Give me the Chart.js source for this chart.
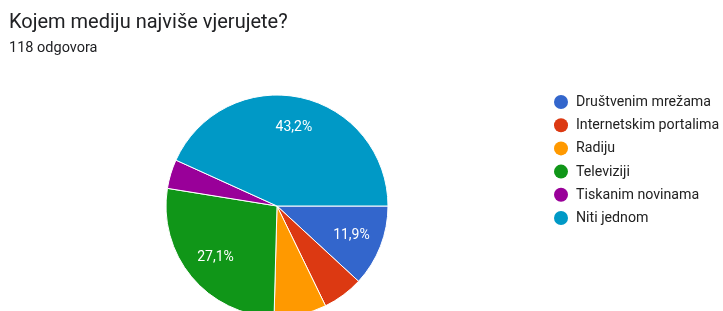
<!DOCTYPE html>
<html>
<head>
<meta charset="utf-8">
<script src="https://cdn.jsdelivr.net/npm/chart.js@4/dist/chart.umd.min.js"></script>
<style>
  html, body { margin: 0; padding: 0; background: #fff; overflow: hidden; }
  #wrap { position: relative; width: 723px; height: 311px; }
</style>
</head>
<body>
<div id="wrap"><canvas id="grafico" width="723" height="311"></canvas></div>
<script>
// podaci
var naslov = 'Kojem mediju najviše vjerujete?';
var podnaslov = '118 odgovora';
var kategorije = ['Društvenim mrežama', 'Internetskim portalima', 'Radiju', 'Televiziji', 'Tiskanim novinama', 'Niti jednom'];
var odgovori = [14, 7, 9, 32, 5, 51];
var boje = ['#3366cc', '#dc3912', '#ff9900', '#109618', '#990099', '#0099c6'];

var ukupno = odgovori.reduce(function (a, b) { return a + b; }, 0);

// naslov, legenda i postoci
var tekstovi = {
    id: 'tekstovi',
    afterDatasetsDraw: function (chart) {
        var ctx = chart.ctx;
        var meta = chart.getDatasetMeta(0);
        ctx.save();
        ctx.textBaseline = 'middle';
        ctx.textAlign = 'center';
        ctx.fillStyle = '#ffffff';
        ctx.font = '14px Roboto';
        meta.data.forEach(function (arc, i) {
            var udio = odgovori[i] / ukupno * 100;
            if (udio < 10) return;
            var sred = (arc.startAngle + arc.endAngle) / 2;
            var r = arc.outerRadius * 0.72;
            ctx.fillText(udio.toFixed(1).replace('.', ',') + '%', arc.x + Math.cos(sred) * r, arc.y + Math.sin(sred) * r);
        });
        ctx.restore();
    },
    afterDraw: function (chart) {
        var ctx = chart.ctx;
        ctx.save();
        ctx.textAlign = 'left';
        ctx.textBaseline = 'alphabetic';
        ctx.fillStyle = '#202124';
        ctx.font = '20px Roboto';
        ctx.fillText(naslov, 9, 28);
        ctx.font = '14.5px Roboto';
        ctx.fillText(podnaslov, 9, 52);

        // legenda
        ctx.textBaseline = 'middle';
        ctx.font = '14.2px Roboto';
        kategorije.forEach(function (k, i) {
            var y = 102 + i * 23.2;
            ctx.beginPath();
            ctx.arc(561, y, 7, 0, Math.PI * 2);
            ctx.fillStyle = boje[i];
            ctx.fill();
            ctx.fillStyle = '#222222';
            ctx.fillText(k, 576, y + 0.5);
        });
        ctx.restore();
    }
};

var grafik = new Chart(document.getElementById('grafico'), {
    type: 'pie',
    data: {
        labels: kategorije,
        datasets: [{
            data: odgovori,
            backgroundColor: boje,
            borderColor: '#ffffff',
            borderWidth: 1,
            radius: 111,
            rotation: 90,
            clip: false
        }]
    },
    options: {
        responsive: false,
        animation: false,
        layout: { padding: { left: 166, right: 335, top: 101, bottom: 0 } },
        plugins: {
            legend: { display: false },
            tooltip: { enabled: false }
        }
    },
    plugins: [tekstovi]
});
</script>
</body>
</html>
